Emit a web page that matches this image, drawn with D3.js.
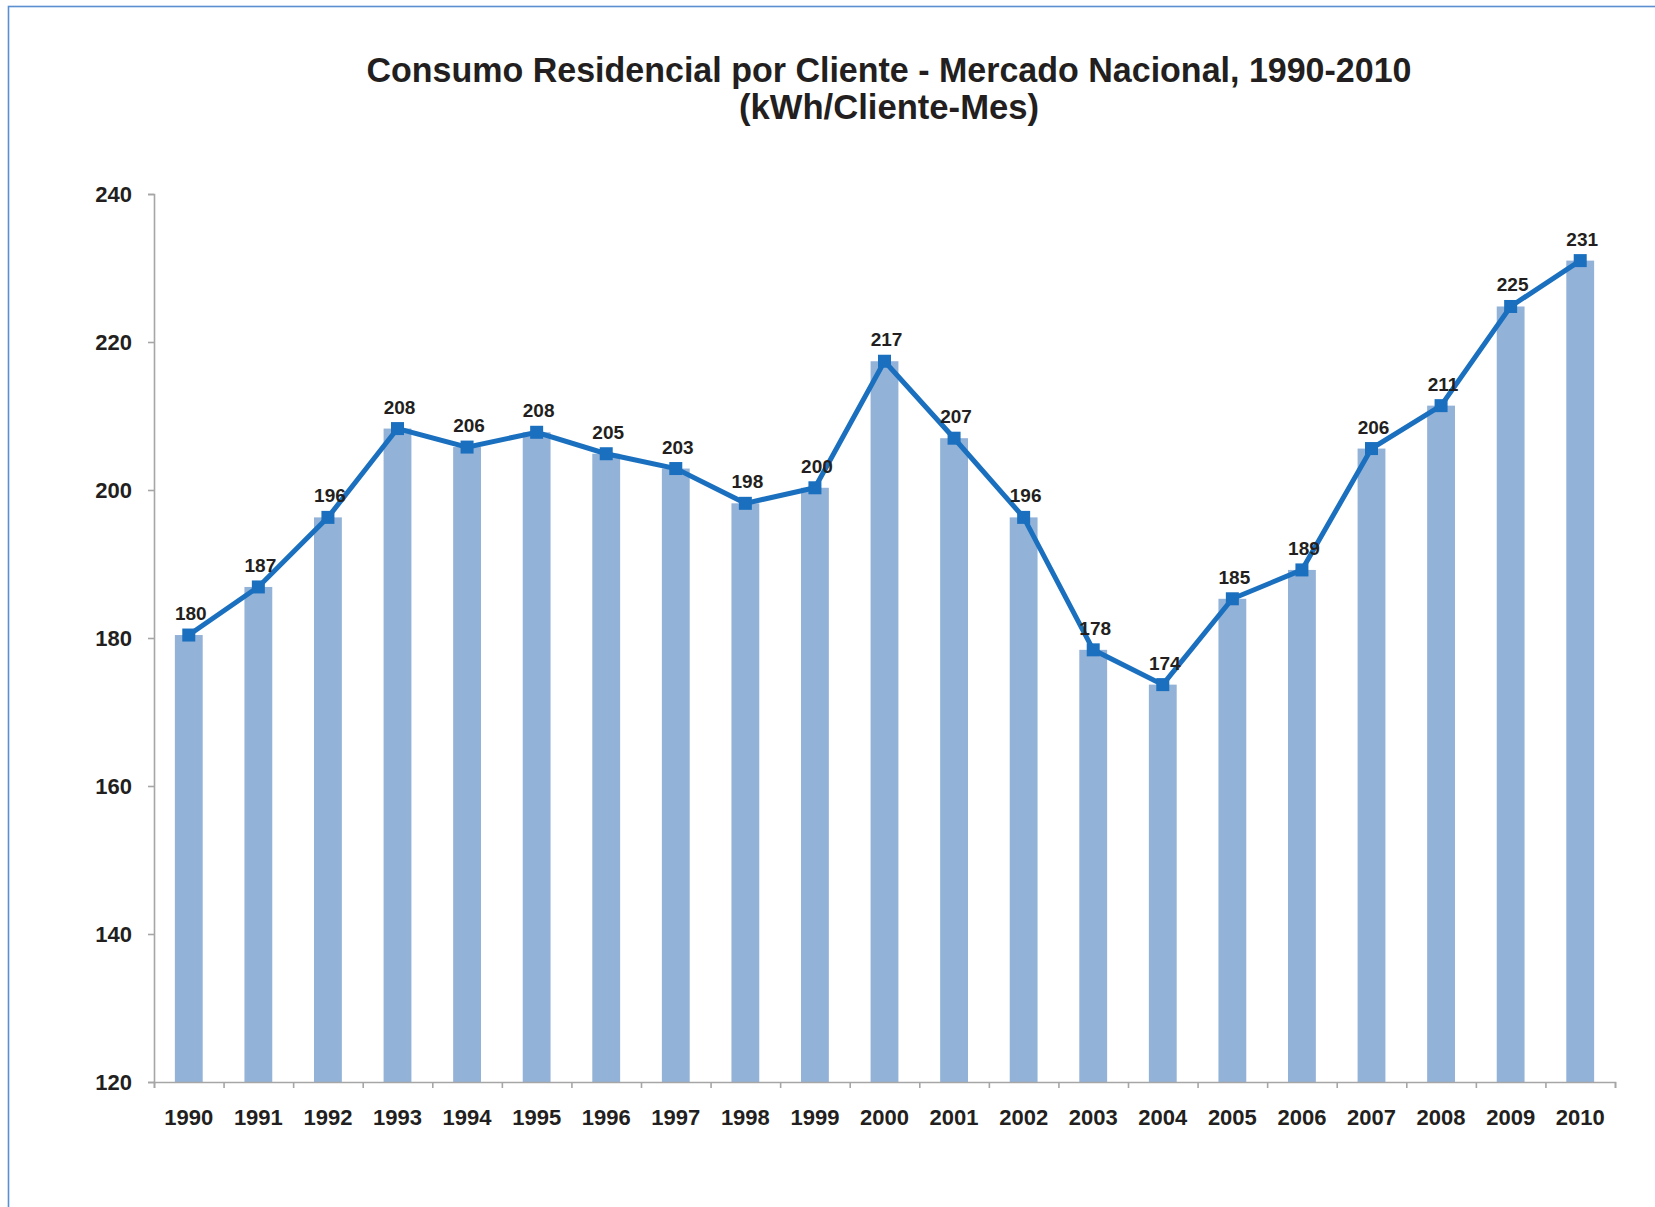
<!DOCTYPE html>
<html>
<head>
<meta charset="utf-8">
<script src="https://cdn.jsdelivr.net/npm/d3@7"></script>
<style>
  html, body { margin: 0; padding: 0; background: #fff; }
  text { font-family: "Liberation Sans", Arial, sans-serif; font-weight: bold; fill: #231f20; }
</style>
</head>
<body>
<div id="chart"></div>
<script>
// data
const years = ['1990','1991','1992','1993','1994','1995','1996','1997','1998','1999','2000',
               '2001','2002','2003','2004','2005','2006','2007','2008','2009','2010'];
const consumo = [180.4, 186.9, 196.3, 208.3, 205.8, 207.8, 204.9, 202.9, 198.2, 200.3, 217.4,
                 207.0, 196.3, 178.4, 173.7, 185.3, 189.2, 205.6, 211.4, 224.8, 231.0];
const yTicks = [120, 140, 160, 180, 200, 220, 240];
const titleLines = ['Consumo Residencial por Cliente - Mercado Nacional, 1990-2010', '(kWh/Cliente-Mes)'];

const width = 1655, height = 1207;
const margin = {top: 194, right: 40, bottom: 125, left: 154};

const svg = d3.select('#chart').append('svg')
  .attr('width', width)
  .attr('height', height);

// outer frame (only left/top visible in the crop)
svg.append('rect')
  .attr('x', 8.5).attr('y', 6.5)
  .attr('width', width + 20).attr('height', height + 20)
  .attr('fill', 'none')
  .attr('stroke', '#5b8fd2')
  .attr('stroke-width', 1.6);

// title
svg.append('text')
  .attr('x', 889).attr('y', 82)
  .attr('text-anchor', 'middle')
  .attr('font-size', 35)
  .attr('textLength', 1045).attr('lengthAdjust', 'spacingAndGlyphs')
  .text(titleLines[0]);
svg.append('text')
  .attr('x', 889).attr('y', 119)
  .attr('text-anchor', 'middle')
  .attr('font-size', 35)
  .attr('textLength', 300).attr('lengthAdjust', 'spacingAndGlyphs')
  .text(titleLines[1]);

const x = d3.scaleBand()
  .domain(years)
  .range([margin.left, width - margin.right])
  .paddingInner(0.6)
  .paddingOuter(0.3);

const y = d3.scaleLinear()
  .domain([120, 240])
  .range([height - margin.bottom, margin.top]);

const cx = d => x(d) + x.bandwidth() / 2;

// bars
svg.append('g').selectAll('rect')
  .data(years)
  .join('rect')
  .attr('x', d => x(d))
  .attr('y', (d, i) => y(consumo[i]))
  .attr('width', x.bandwidth())
  .attr('height', (d, i) => y(120) - y(consumo[i]))
  .attr('fill', '#93b2d8');

// y axis
const yAxis = svg.append('g')
  .attr('transform', `translate(${margin.left},0)`)
  .call(d3.axisLeft(y).tickValues(yTicks).tickSize(6).tickPadding(16));
yAxis.selectAll('text').attr('font-size', 22).attr('font-family', null);

// x axis: ticks between categories
const edge = d3.scaleLinear().domain([0, years.length]).range([margin.left, width - margin.right]);
svg.append('g')
  .attr('transform', `translate(0,${y(120)})`)
  .call(d3.axisBottom(edge).tickValues(d3.range(years.length + 1)).tickFormat('').tickSize(6));

const xAxis = svg.append('g')
  .attr('transform', `translate(0,${y(120)})`)
  .call(d3.axisBottom(x).tickSize(0).tickPadding(27));
xAxis.select('.domain').remove();
xAxis.selectAll('text').attr('font-size', 22).attr('font-family', null);

svg.selectAll('.domain, .tick line')
  .attr('stroke', '#a6a6a6')
  .attr('stroke-width', 1.6);

// line + markers
const line = d3.line()
  .x((d, i) => cx(years[i]))
  .y(d => y(d));

svg.append('path')
  .datum(consumo)
  .attr('d', line)
  .attr('fill', 'none')
  .attr('stroke', '#1a70be')
  .attr('stroke-width', 5)
  .attr('stroke-linejoin', 'miter');

const ms = 13;
svg.append('g').selectAll('rect')
  .data(consumo)
  .join('rect')
  .attr('x', (d, i) => cx(years[i]) - ms / 2)
  .attr('y', d => y(d) - ms / 2)
  .attr('width', ms).attr('height', ms)
  .attr('fill', '#1a70be');

// data labels
const fmt = d3.format('.0f');
svg.append('g').selectAll('text')
  .data(consumo)
  .join('text')
  .attr('x', (d, i) => cx(years[i]) + 2)
  .attr('y', d => y(d) - 15)
  .attr('text-anchor', 'middle')
  .attr('font-size', 19)
  .text(d => fmt(d));
</script>
</body>
</html>
